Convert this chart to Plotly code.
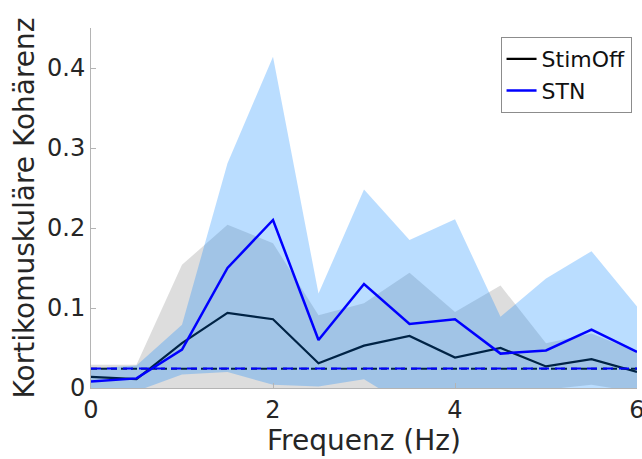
import plotly.graph_objects as go

# Frequency bins (Hz)
freq = [0, 0.5, 1, 1.5, 2, 2.5, 3, 3.5, 4, 4.5, 5, 5.5, 6]

# StimOff: mean coherence with upper / lower band
stimoff_mean = [0.014, 0.011, 0.056, 0.094, 0.086, 0.031, 0.053, 0.065, 0.038, 0.050, 0.027, 0.036, 0.020]
stimoff_upper = [0.029, 0.029, 0.154, 0.204, 0.181, 0.091, 0.106, 0.144, 0.095, 0.128, 0.056, 0.068, 0.045]
stimoff_lower = [-0.001, -0.007, -0.042, -0.016, -0.009, -0.029, -0.001, -0.014, -0.019, -0.028, -0.002, 0.004, -0.005]

# STN stimulation: mean coherence with upper / lower band
stn_mean = [0.008, 0.012, 0.048, 0.150, 0.210, 0.060, 0.130, 0.080, 0.086, 0.043, 0.047, 0.073, 0.045]
stn_upper = [0.024, 0.028, 0.079, 0.281, 0.414, 0.118, 0.248, 0.185, 0.211, 0.089, 0.137, 0.171, 0.102]
stn_lower = [-0.008, -0.004, 0.017, 0.020, 0.004, 0.002, 0.011, -0.024, -0.039, -0.003, -0.043, -0.025, -0.012]

# Significance levels
stimoff_sig = 0.024
stn_sig = 0.0245

x_ticks = [0, 2, 4, 6]
y_ticks = [0, 0.1, 0.2, 0.3, 0.4]
y_tick_text = ["0", "0.1", "0.2", "0.3", "0.4"]

FONT = "DejaVu Sans"
TEXT = "#262626"
AXIS = "#b4b4b4"

fig = go.Figure()


def band(upper, lower, color):
    return go.Scatter(
        x=freq + freq[::-1],
        y=upper + lower[::-1],
        fill="toself",
        fillcolor=color,
        line=dict(width=0),
        mode="lines",
        showlegend=False,
        hoverinfo="skip",
    )


fig.add_trace(band(stimoff_upper, stimoff_lower, "rgba(128,128,128,0.27)"))
fig.add_trace(go.Scatter(x=freq, y=stimoff_mean, mode="lines", name="StimOff",
                         line=dict(color="black", width=2.2)))
fig.add_trace(go.Scatter(x=[freq[0], freq[-1]], y=[stimoff_sig, stimoff_sig], mode="lines",
                         showlegend=False, line=dict(color="black", width=2, dash="6px,4px")))
fig.add_trace(band(stn_upper, stn_lower, "rgba(0,128,255,0.27)"))
fig.add_trace(go.Scatter(x=freq, y=stn_mean, mode="lines", name="STN",
                         line=dict(color="#0000ff", width=2.5)))
fig.add_trace(go.Scatter(x=[freq[0], freq[-1]], y=[stn_sig, stn_sig], mode="lines",
                         showlegend=False, line=dict(color="#0000ff", width=2, dash="10px,6px")))

fig.update_layout(
    width=642,
    height=459,
    margin=dict(l=91, r=5, t=28, b=71),
    paper_bgcolor="white",
    plot_bgcolor="white",
    font=dict(family=FONT, color=TEXT, size=23),
    legend=dict(
        x=0.99, y=0.975, xanchor="right", yanchor="top",
        bordercolor="#8c8c8c", borderwidth=1, bgcolor="white",
        font=dict(family=FONT, size=22, color="#111111"),
        tracegroupgap=0, itemwidth=30,
    ),
    xaxis=dict(
        range=[0, 6], tickvals=x_ticks, ticks="inside", ticklen=5,
        tickcolor=AXIS, showline=True, linecolor=AXIS, linewidth=1,
        showgrid=False, zeroline=False, tickfont=dict(size=24),
        ticklabeloverflow="allow", automargin=False,
        title=dict(text="Frequenz (Hz)", font=dict(size=28), standoff=6),
    ),
    yaxis=dict(
        range=[0, 0.45], tickvals=y_ticks, ticktext=y_tick_text, ticks="inside",
        ticklen=5, tickcolor=AXIS, showline=True, linecolor=AXIS, linewidth=1,
        showgrid=False, zeroline=False, tickfont=dict(size=24), automargin=False,
        title=dict(text="Kortikomuskuläre Kohärenz", font=dict(size=28), standoff=4),
    ),
)

fig.write_html("out.html")
